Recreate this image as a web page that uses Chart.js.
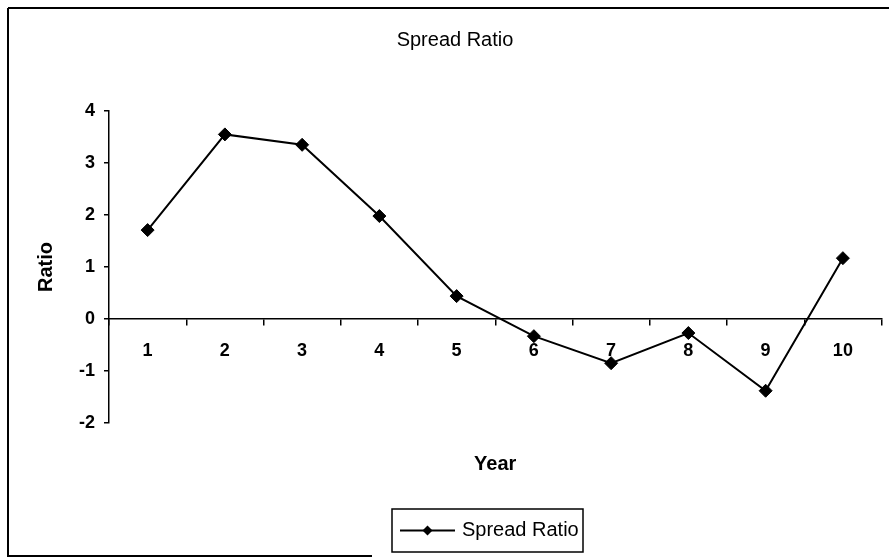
<!DOCTYPE html>
<html>
<head>
<meta charset="utf-8">
<title>Spread Ratio</title>
<script src="https://cdn.jsdelivr.net/npm/chart.js@4.4.1/dist/chart.umd.min.js"></script>
<style>
  html, body { margin: 0; padding: 0; background: #ffffff; }
  canvas { display: block; }
</style>
</head>
<body>
<canvas id="chart" width="889" height="558"></canvas>
<script>
// Year numbers along the x axis
const years = ['1', '2', '3', '4', '5', '6', '7', '8', '9', '10'];
// Spread ratio for each year
const spreadRatio = [1.71, 3.55, 3.35, 1.98, 0.44, -0.33, -0.85, -0.27, -1.38, 1.17];
// Value axis ticks
const ratioTicks = [-2, -1, 0, 1, 2, 3, 4];

const FONT = '"Liberation Sans", Arial, Helvetica, sans-serif';
const INK = '#000000';

// Outer frame and boxed legend drawn on top of the chart
const frameAndLegend = {
  id: 'frameAndLegend',
  afterDraw(chart) {
    const ctx = chart.ctx;
    const ds = chart.data.datasets[0];
    ctx.save();
    ctx.strokeStyle = INK;
    ctx.lineWidth = 2;
    ctx.beginPath();
    ctx.moveTo(8, 8); ctx.lineTo(889, 8);
    ctx.moveTo(8, 8); ctx.lineTo(8, 556);
    ctx.moveTo(7, 556); ctx.lineTo(372, 556);
    ctx.stroke();

    // legend box
    const bx = 392, by = 509, bw = 191, bh = 43;
    ctx.lineWidth = 1.5;
    ctx.strokeRect(bx, by, bw, bh);
    const cy = by + bh / 2;
    ctx.lineWidth = ds.borderWidth;
    ctx.strokeStyle = ds.borderColor;
    ctx.beginPath();
    ctx.moveTo(bx + 8, cy); ctx.lineTo(bx + 63, cy);
    ctx.stroke();
    ctx.fillStyle = ds.pointBackgroundColor;
    const mx = bx + 35.5, r = 5;
    ctx.beginPath();
    ctx.moveTo(mx, cy - r); ctx.lineTo(mx + r, cy); ctx.lineTo(mx, cy + r); ctx.lineTo(mx - r, cy);
    ctx.closePath();
    ctx.fill();
    ctx.fillStyle = INK;
    ctx.font = '20px ' + FONT;
    ctx.textBaseline = 'middle';
    ctx.textAlign = 'left';
    ctx.fillText(ds.label, bx + 70, cy);
    ctx.restore();
  }
};

new Chart(document.getElementById('chart'), {
  type: 'line',
  data: {
    labels: years,
    datasets: [{
      label: 'Spread Ratio',
      data: spreadRatio,
      borderColor: INK,
      backgroundColor: INK,
      borderWidth: 2,
      tension: 0,
      pointStyle: 'rectRot',
      pointRadius: 6.5,
      pointBorderWidth: 1,
      pointBackgroundColor: INK,
      pointBorderColor: INK,
      xAxisID: 'x',
      yAxisID: 'y'
    }]
  },
  options: {
    responsive: false,
    animation: false,
    devicePixelRatio: 1,
    layout: { padding: { left: 28, right: 7, top: 0, bottom: 82 } },
    plugins: {
      legend: { display: false },
      tooltip: { enabled: false },
      title: {
        display: true,
        text: 'Spread Ratio',
        color: INK,
        font: { family: FONT, size: 20, weight: 'normal' },
        padding: { top: 28, bottom: 59 }
      }
    },
    scales: {
      x: {
        type: 'category',
        position: { y: 0 },
        offset: true,
        grid: {
          offset: true,
          drawOnChartArea: false,
          drawTicks: true,
          tickLength: 6,
          color: INK,
          lineWidth: 1.5
        },
        border: { display: true, color: INK, width: 1.5 },
        ticks: {
          color: INK,
          padding: 15,
          maxRotation: 0,
          font: { family: FONT, size: 18, weight: 'bold' }
        }
      },
      x2: {
        type: 'category',
        position: 'bottom',
        labels: years,
        offset: true,
        grid: { display: false, drawTicks: false },
        border: { display: false },
        ticks: { display: false },
        title: {
          display: true,
          text: 'Year',
          color: INK,
          font: { family: FONT, size: 20, weight: 'bold' },
          padding: { top: 29, bottom: 0 }
        }
      },
      y: {
        type: 'linear',
        position: 'left',
        min: ratioTicks[0],
        max: ratioTicks[ratioTicks.length - 1],
        afterFit(scale) { scale.width = 81; },
        afterBuildTicks(scale) { scale.ticks = ratioTicks.map(v => ({ value: v })); },
        grid: {
          drawOnChartArea: false,
          drawTicks: true,
          tickLength: 5,
          color: INK,
          lineWidth: 1.5
        },
        border: { display: true, color: INK, width: 1.5 },
        ticks: {
          color: INK,
          padding: 9,
          font: { family: FONT, size: 18, weight: 'bold' }
        },
        title: {
          display: true,
          text: 'Ratio',
          color: INK,
          font: { family: FONT, size: 20, weight: 'bold' },
          padding: { top: 6, bottom: 0 }
        }
      }
    }
  },
  plugins: [frameAndLegend]
});
</script>
</body>
</html>
